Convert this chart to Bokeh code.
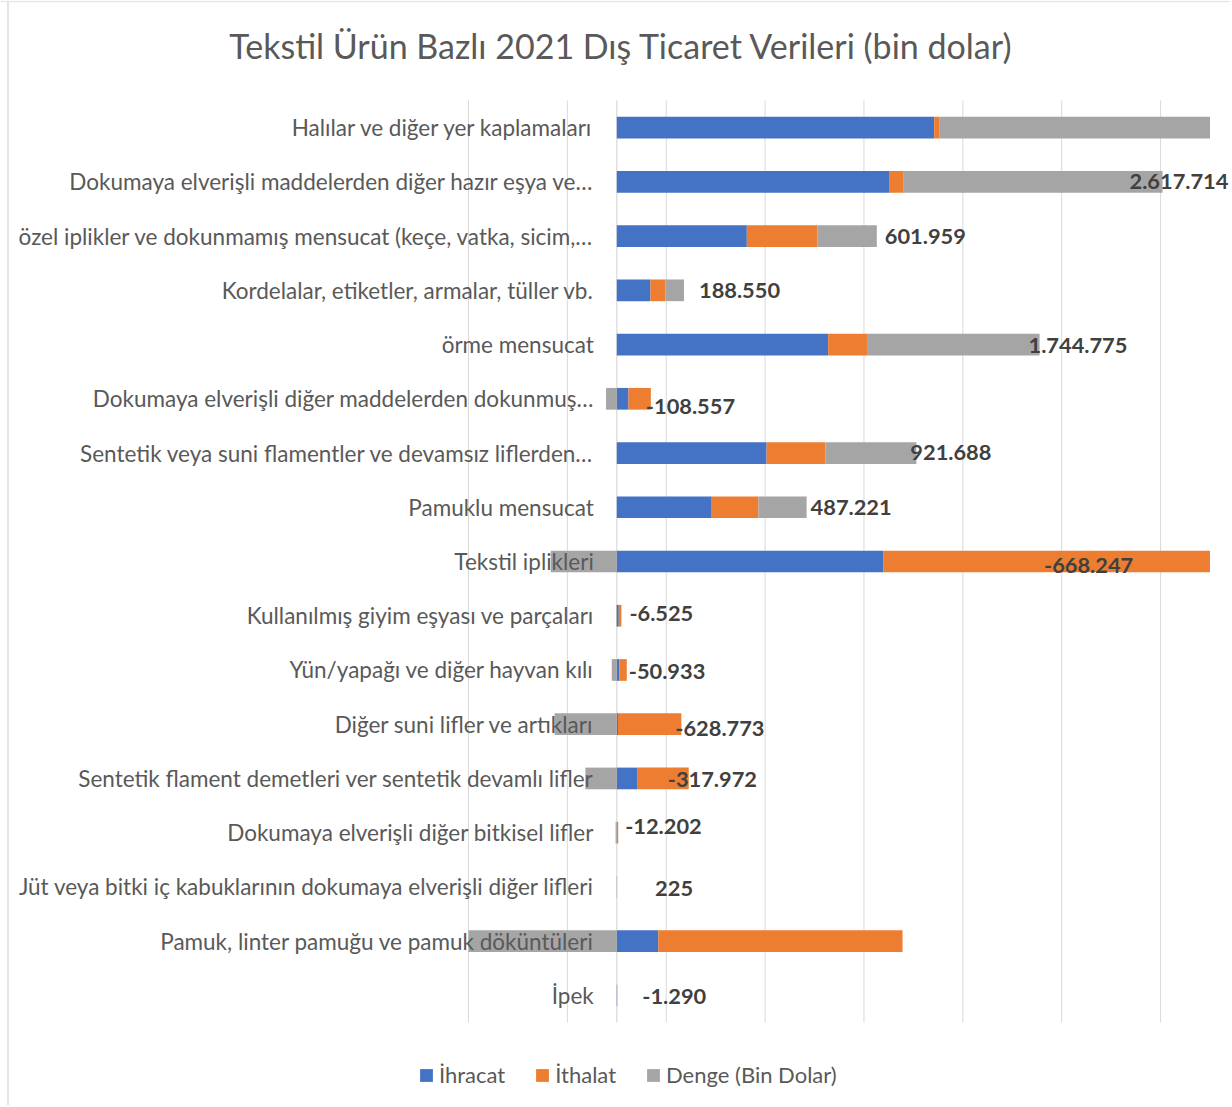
from bokeh.plotting import figure
from bokeh.models import (ColumnDataSource, Range1d, LabelSet, Label,
                          Legend, LegendItem, Grid, Span)
from bokeh.core.properties import value
from bokeh.embed import file_html
from bokeh.resources import INLINE

# ---------------- data (bin dolar) ----------------
categories = [
    "Halılar ve diğer yer kaplamaları",
    "Dokumaya elverişli maddelerden diğer hazır eşya ve…",
    "özel iplikler ve dokunmamış mensucat (keçe, vatka, sicim,…",
    "Kordelalar, etiketler, armalar, tüller vb.",
    "örme mensucat",
    "Dokumaya elverişli diğer maddelerden dokunmuş…",
    "Sentetik veya suni flamentler ve devamsız liflerden…",
    "Pamuklu mensucat",
    "Tekstil iplikleri",
    "Kullanılmış giyim eşyası ve parçaları",
    "Yün/yapağı ve diğer hayvan kılı",
    "Diğer suni lifler ve artıkları",
    "Sentetik flament demetleri ver sentetik devamlı lifler",
    "Dokumaya elverişli diğer bitkisel lifler",
    "Jüt veya bitki iç kabuklarının dokumaya elverişli diğer lifleri",
    "Pamuk, linter pamuğu ve pamuk döküntüleri",
    "İpek",
]
ihracat = [3210000, 2760000, 1315000, 340000, 2138000, 118000, 1515000, 960000,
           2694000, 20000, 25000, 12000, 205000, 1000, 1500, 420000, 2000]
ithalat = [50000, 142286, 713041, 151450, 393225, 226557, 593312, 472779,
           3362247, 26525, 75933, 640773, 522972, 13202, 1275, 2470000, 3290]
denge = [3160000, 2617714, 601959, 188550, 1744775, -108557, 921688, 487221,
         -668247, -6525, -50933, -628773, -317972, -12202, 225, -2050000, -1290]
series_names = ["İhracat", "İthalat", "Denge (Bin Dolar)"]
title_text = "Tekstil Ürün Bazlı 2021 Dış Ticaret Verileri (bin dolar)"
grid_ticks = [-1500000, -500000, 500000, 1500000, 2500000, 3500000, 4500000, 5500000]
axis_min, axis_max = -1500000, 6000000

# ---------------- layout / styling ----------------
W, H = 1230, 1105
AX_LEFT_PX, AX_RIGHT_PX = 468, 1209.5      # pixel columns of axis_min / axis_max
PLOT_TOP_PX, PLOT_BOTTOM_PX = 100, 1022     # pixel rows of the category band
label_dx = [0, -33, 8, 15, -11, -5, -6, 4, -166, 8, 2, -6, -21, 7, 38, 0, 25]
label_dy = [0, 0, 0, 0, 1, 8, -1, 0, 4, -2, 2, 4, 1, -6, 2, 0, 1]

n = len(categories)
upp_x = (axis_max - axis_min) / (AX_RIGHT_PX - AX_LEFT_PX)
x_start = axis_min - AX_LEFT_PX * upp_x
x_end = axis_max + (W - AX_RIGHT_PX) * upp_x
upp_y = n / (PLOT_BOTTOM_PX - PLOT_TOP_PX)
y_end = n + PLOT_TOP_PX * upp_y
y_start = -(H - PLOT_BOTTOM_PX) * upp_y

# ---------------- derived stacking (clipped to the value axis) ----------------
def clip(v):
    return max(axis_min, min(axis_max, v))

ypos = [n - 0.5 - i for i in range(n)]
exp_r = [clip(v) for v in ihracat]
imp_r_raw = [a + b for a, b in zip(ihracat, ithalat)]
imp_r = [clip(v) for v in imp_r_raw]
bal_l_raw = [r if d >= 0 else d for r, d in zip(imp_r_raw, denge)]
bal_r_raw = [r + d if d >= 0 else 0 for r, d in zip(imp_r_raw, denge)]
bal_l = [clip(v) for v in bal_l_raw]
bal_r = [clip(v) for v in bal_r_raw]

def fmt(v):
    return f"{v:,}".replace(",", ".")

lab_x, lab_txt = [], []
for r, d, bl, br in zip(imp_r_raw, denge, bal_l_raw, bal_r_raw):
    lab_x.append(clip(r + max(d, 0)))
    hidden = br > axis_max or bl < axis_min
    lab_txt.append("" if hidden else fmt(d))

src = ColumnDataSource(dict(
    cat=categories, y=ypos, exp_l=[0] * n, exp_r=exp_r, imp_l=exp_r,
    imp_r=imp_r, bal_l=bal_l, bal_r=bal_r, zero=[0] * n,
    lab_x=lab_x, lab_txt=lab_txt, dx=label_dx, dy=[-v for v in label_dy],
))
grid_src = ColumnDataSource(dict(x=grid_ticks, y0=[0] * len(grid_ticks),
                                 y1=[n] * len(grid_ticks)))

FONT = "Lato"
TXT = "#595959"

p = figure(width=W, height=H, title=None,
           x_range=Range1d(x_start, x_end), y_range=Range1d(y_start, y_end),
           x_axis_location=None, y_axis_location=None,
           output_backend="svg", toolbar_location=None,
           min_border_left=0, min_border_right=0,
           min_border_top=0, min_border_bottom=0)
p.outline_line_color = None
p.background_fill_color = "white"
p.border_fill_color = "white"
for g in p.select(type=Grid):
    g.visible = False

# chart-area border (left and top edges, as in the source image)
p.add_layout(Span(location=x_start + 7.5 * upp_x, dimension="height",
                  line_color="#dcdcdc", line_width=1.5))
p.add_layout(Span(location=y_end - 1 * upp_y, dimension="width",
                  line_color="#e6e6e6", line_width=1.5))

# vertical gridlines and the category (zero) axis line
p.segment(x0="x", x1="x", y0="y0", y1="y1", source=grid_src,
          line_color="#d9d9d9", line_width=1)
p.segment(x0=[0], x1=[0], y0=[0], y1=[n], line_color="#d9d9d9", line_width=1.2)

bh = 0.4
r1 = p.hbar(y="y", left="exp_l", right="exp_r", height=bh, source=src,
            fill_color="#4472C4", line_color=None)
r2 = p.hbar(y="y", left="imp_l", right="imp_r", height=bh, source=src,
            fill_color="#ED7D31", line_color=None)
r3 = p.hbar(y="y", left="bal_l", right="bal_r", height=bh, source=src,
            fill_color="#A5A5A5", line_color=None)

# category labels next to the zero axis
p.add_layout(LabelSet(x="zero", y="y", text="cat", source=src, x_offset=-23,
                      text_align="right", text_baseline="middle",
                      text_font=value(FONT), text_font_size="22.5px",
                      text_color=TXT))
# data labels (Denge)
p.add_layout(LabelSet(x="lab_x", y="y", text="lab_txt", source=src,
                      x_offset="dx", y_offset="dy",
                      text_align="left", text_baseline="middle",
                      text_font=value(FONT), text_font_style="bold",
                      text_font_size="21.8px", text_color="#404040"))

p.add_layout(Label(x=621, y=H - 45, x_units="screen", y_units="screen",
                   text=title_text, text_align="center", text_baseline="middle",
                   text_font=FONT, text_font_size="34px", text_color=TXT))

legend = Legend(items=[LegendItem(label=series_names[0], renderers=[r1]),
                       LegendItem(label=series_names[1], renderers=[r2]),
                       LegendItem(label=series_names[2], renderers=[r3])],
                orientation="horizontal", location=(418, 17),
                glyph_width=16, glyph_height=16, label_standoff=5, spacing=29,
                padding=0, margin=0, border_line_color=None,
                background_fill_alpha=0, label_text_font=FONT,
                label_text_font_size="22px", label_text_color=TXT)
p.add_layout(legend)

open("out.html", "w").write(file_html(p, INLINE))
